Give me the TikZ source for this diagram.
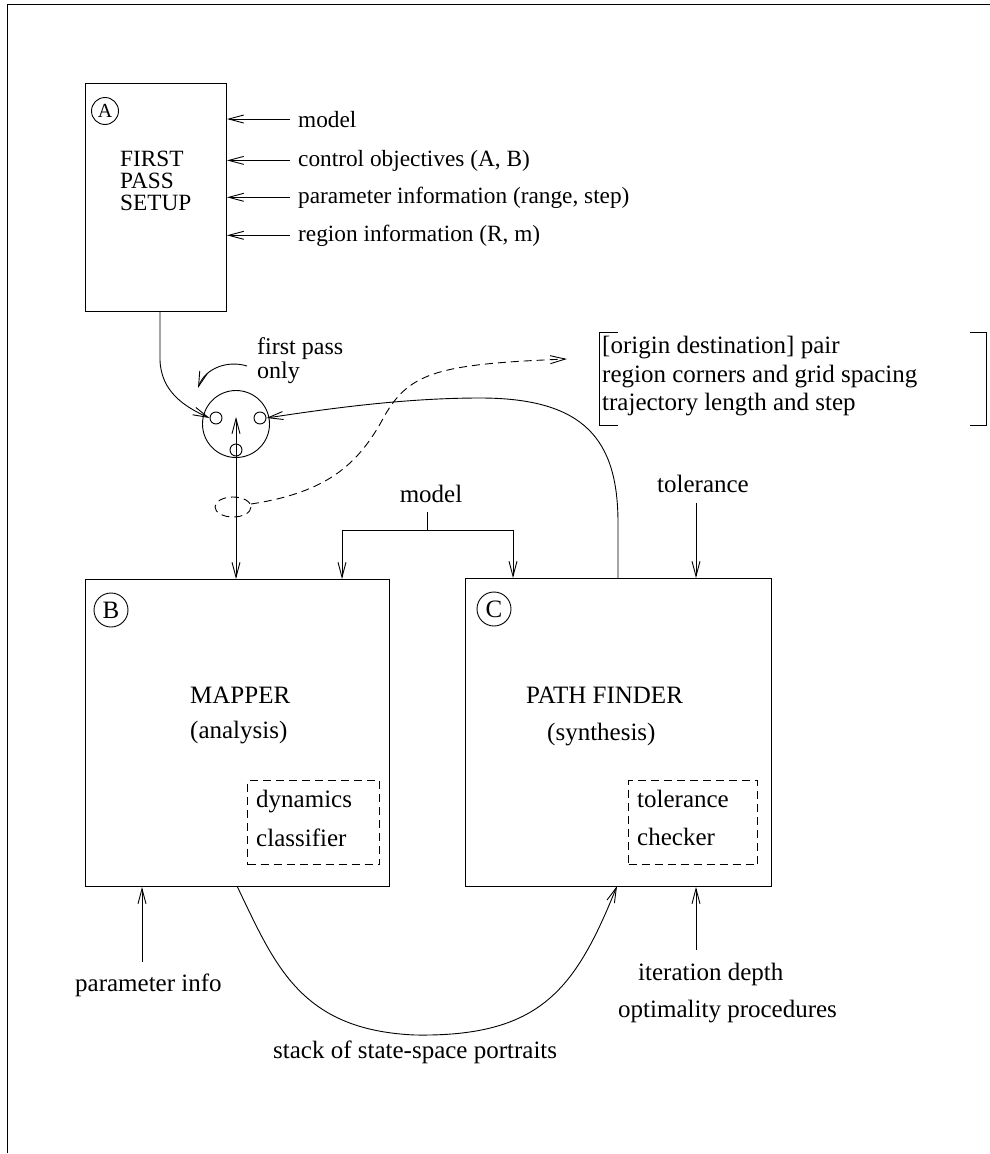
\documentclass[tikz,border=0pt]{standalone}
\usepackage{fontspec}
\setmainfont{Liberation Serif}
\usetikzlibrary{arrows.meta}
\begin{document}
\begin{tikzpicture}[x=1pt,y=-1pt,
  every node/.style={font=\fontsize{25}{30}\selectfont},
  small/.style={font=\fontsize{23.3}{28}\selectfont},
  txt/.style={anchor=base west, inner sep=0pt},
  ctxt/.style={anchor=base, inner sep=0pt},
  box/.style={draw, line width=1pt, anchor=north west, inner sep=0pt},
  dbox/.style={draw, line width=1pt, dash pattern=on 8pt off 5pt, anchor=north west, inner sep=0pt},
  lbl/.style={draw, circle, line width=0.9pt, inner sep=0pt, minimum size=34pt},
  smallc/.style={draw, circle, line width=0.9pt, inner sep=0pt, minimum size=12pt},
  ln/.style={line width=0.9pt},
  arr/.style={ln, -{Straight Barb[length=15pt,width=8pt]}},
  darr/.style={ln, {Straight Barb[length=15pt,width=8pt]}-{Straight Barb[length=15pt,width=8pt]}},
  dsh/.style={ln, dash pattern=on 8pt off 5pt}
]
\useasboundingbox (0,0) rectangle (990,1154);
% frame
\draw[ln] (990,4) -- (7,4) -- (7,1153);

% box A
\node[box, minimum width=141pt, minimum height=228pt] (A) at (85,83) {};
\node[lbl, minimum size=27pt, font=\fontsize{20}{24}\selectfont] (cA) at (105,111) {A};
\node[txt, small] (tA1) at (120,166) {FIRST};
\node[txt, small] (tA2) at (120,188) {PASS};
\node[txt, small] (tA3) at (120,210) {SETUP};

% inputs to A
\node[txt, small] (in1) at (298,127) {model};
\node[txt, small] (in2) at (298,166) {control objectives (A, B)};
\node[txt, small] (in3) at (298,203) {parameter information (range, step)};
\node[txt, small] (in4) at (298,241) {region information (R, m)};
\foreach \i in {1,2,3,4}{
  \draw[arr] ([xshift=-8pt]in\i.west) -- (in\i.west -| A.east);
}

% switch
\node[draw, circle, line width=0.9pt, minimum size=67pt, inner sep=0pt] (sw) at (236,424) {};
\node[smallc] (swl) at (216,418) {};
\node[smallc] (swr) at (260,418) {};
\node[smallc] (swb) at (236,450) {};
\coordinate (swtip) at (236,417);

% first pass only
\node[txt, font=\fontsize{24}{28}\selectfont] (fp1) at (257,354) {first pass};
\node[txt, font=\fontsize{24}{28}\selectfont] (fp2) at (257,378) {only};
\draw[arr] (247,366) .. controls (228,360) and (205,368) .. (198,388);

% A to switch
\coordinate (Aout) at (160,311);
\draw[arr] (Aout) -- (160,360) .. controls (161,392) and (185,407) .. (swl.west);

% bracket info
\node[txt] (br1) at (602,353) {[origin destination] pair};
\node[txt] (br2) at (602,382) {region corners and grid spacing};
\node[txt] (br3) at (602,410) {trajectory length and step};
\draw[ln] (618,332) -- (599,332) -- (599,425) -- (618,425);
\draw[ln] (970,332) -- (986,332) -- (986,425) -- (970,425);

% box B
\node[box, minimum width=304pt, minimum height=307pt] (B) at (85,579) {};
\node[lbl] (cB) at (111,610) {B};
\node[txt] (tB1) at (190,703) {MAPPER};
\node[txt] (tB2) at (190,738) {(analysis)};
\node[dbox, minimum width=132pt, minimum height=84pt] (dB) at (247,780) {};
\node[txt] (dB1) at (256,807) {dynamics};
\node[txt] (dB2) at (256,846) {classifier};

% box C
\node[box, minimum width=306pt, minimum height=308pt] (C) at (465,578) {};
\node[lbl] (cC) at (494,609) {C};
\node[txt] (tC1) at (526,703) {PATH FINDER};
\node[txt] (tC2) at (547,740) {(synthesis)};
\node[dbox, minimum width=129pt, minimum height=84pt] (dC) at (628,780) {};
\node[txt] (dC1) at (637,807) {tolerance};
\node[txt] (dC2) at (637,845) {checker};

% double arrow switch <-> B
\draw[darr] (swtip) -- (swtip |- B.north);

% dashed ellipse and dashed curve
\draw[dsh] (233,507) ellipse [x radius=18, y radius=10];
\coordinate (ellr) at (251,504);
\coordinate (dtip) at (567,359);
\draw[dsh, -{Straight Barb[length=15pt,width=8pt]}] (ellr) .. controls (330,492) and (360,462) .. (385,415) .. controls (410,372) and (440,364) .. (dtip);

% C to switch
\coordinate (Cout) at (618,578);
\draw[arr] (Cout) -- (618,523) .. controls (618,440) and (585,398) .. (480,398) .. controls (400,398) and (320,410) .. (swr.east);

% model to B and C
\node[ctxt] (mdl) at (431,502) {model};
\coordinate (mj) at (427,530);
\draw[ln] (427,512) -- (mj);
\draw[arr] (mj) -- (342,530) -- (342,530 |- B.north);
\draw[arr] (mj) -- (513,530) -- (513,530 |- C.north);

% tolerance
\node[txt] (tol) at (657,492) {tolerance};
\draw[arr] (696,503) -- (696,503 |- C.north);

% parameter info
\node[txt] (pinf) at (75,991) {parameter info};
\draw[arr] (142,962) -- (142,962 |- B.south);

% iteration depth
\node[txt] (it1) at (638,980) {iteration depth};
\node[txt] (it2) at (618,1017) {optimality procedures};
\draw[arr] (696,950) -- (696,950 |- C.south);

% stack
\node[txt] (stk) at (273,1058) {stack of state-space portraits};
\coordinate (Bout) at (237,886);
\coordinate (Cin) at (617,886);
\draw[arr] (Bout) .. controls (275,965) and (300,1030) .. (415,1035) .. controls (540,1037) and (575,990) .. (Cin);
\end{tikzpicture}
\end{document}
